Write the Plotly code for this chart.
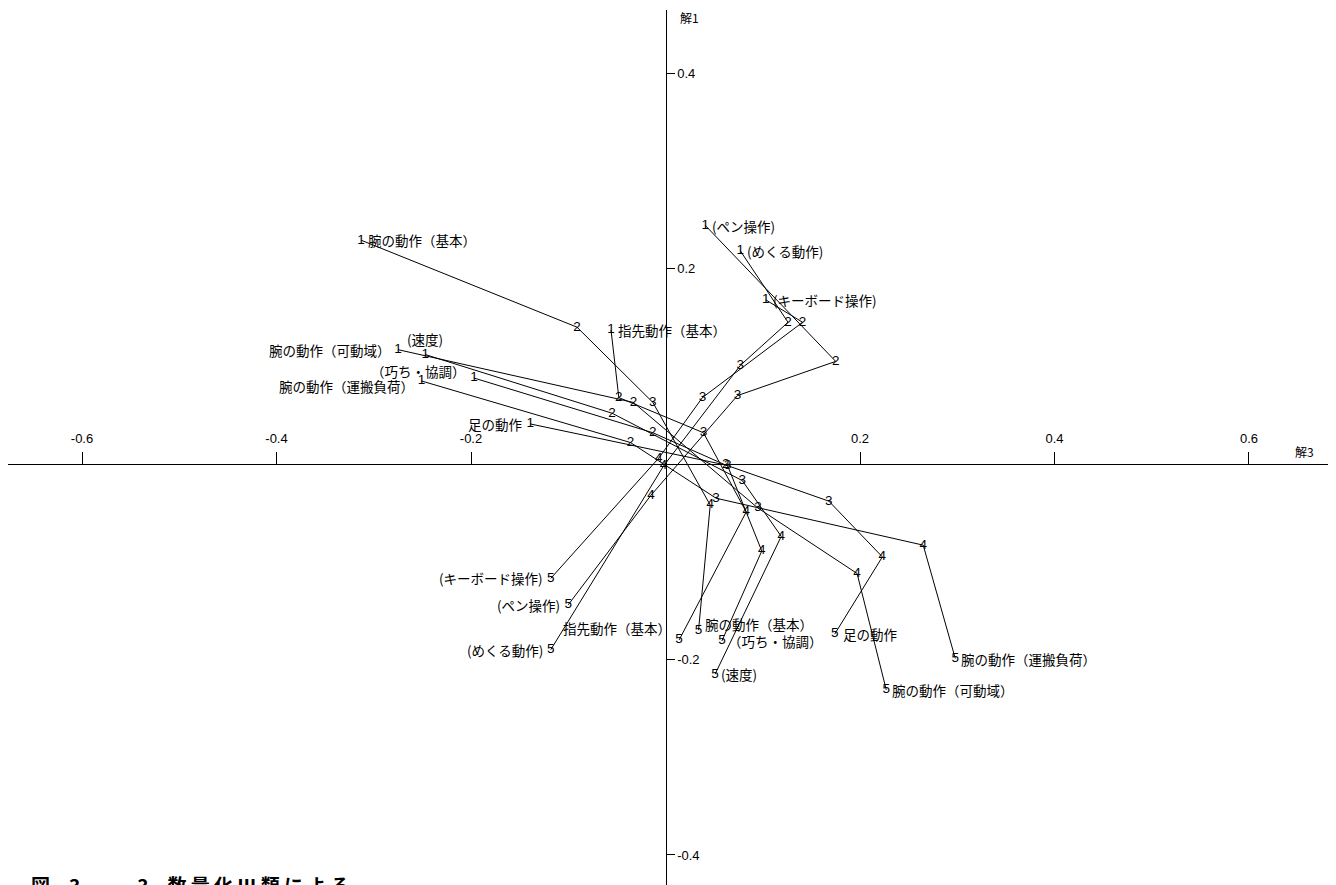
import plotly.graph_objects as go

# ---- data (category scores: x = 解3, y = 解1) ----
item_names = ["腕の動作（基本）", "指先動作（基本）", "腕の動作（可動域）", "(速度)", "（巧ち・協調）",
              "腕の動作（運搬負荷）", "足の動作", "(ペン操作)", "(めくる動作)", "(キーボード操作)"]
category_labels = ["1", "2", "3", "4", "5"]

x_cat1 = [-0.313, -0.056, -0.275, -0.247, -0.197, -0.251, -0.139, 0.041, 0.077, 0.103]
y_cat1 = [0.229, 0.137, 0.117, 0.112, 0.088, 0.085, 0.041, 0.244, 0.218, 0.168]
x_cat2 = [-0.091, -0.048, -0.033, -0.055, -0.013, -0.036, 0.062, 0.175, 0.126, 0.141]
y_cat2 = [0.140, 0.068, 0.063, 0.052, 0.032, 0.022, -0.001, 0.105, 0.145, 0.145]
x_cat3 = [-0.013, 0.039, 0.095, 0.079, 0.064, 0.052, 0.168, 0.074, 0.077, 0.038]
y_cat3 = [0.063, 0.032, -0.045, -0.017, -0.002, -0.035, -0.038, 0.070, 0.101, 0.068]
x_cat4 = [0.046, 0.083, 0.197, 0.119, 0.099, 0.265, 0.223, -0.015, -0.002, -0.007]
y_cat4 = [-0.042, -0.049, -0.112, -0.074, -0.089, -0.083, -0.095, -0.032, -0.002, 0.006]
x_cat5 = [0.034, 0.014, 0.227, 0.051, 0.058, 0.298, 0.174, -0.100, -0.118, -0.118]
y_cat5 = [-0.170, -0.180, -0.231, -0.215, -0.181, -0.199, -0.174, -0.144, -0.190, -0.117]

x_ticks = [-0.6, -0.4, -0.2, 0.2, 0.4, 0.6]
y_ticks = [-0.4, -0.2, 0.2, 0.4]

# ---- label placement (style): side of the point where the label sits, x/y shift in px ----
start_style = [("right", 5, 0), ("right", 5, 0), ("left", -5, 0), ("center", 0, 16), ("left", -6, 7),
               ("left", -5, -5), ("left", -6, 0), ("right", 5, 0), ("right", 5, 0), ("right", 5, 0)]
end_style = [("right", 4, 6), ("left", -6, 12), ("right", 4, 0), ("right", 4, 0), ("right", 4, 0),
             ("right", 4, 0), ("right", 6, 0), ("left", -6, 0), ("left", -6, 0), ("left", -6, 0)]
ANCHOR = {"right": "left", "left": "right", "center": "center"}

FONT = "Liberation Sans, Noto Sans CJK JP, sans-serif"
CJK = "Noto Sans CJK JP, sans-serif"

fig = go.Figure()
xs_all = [x_cat1, x_cat2, x_cat3, x_cat4, x_cat5]
ys_all = [y_cat1, y_cat2, y_cat3, y_cat4, y_cat5]
for i, name in enumerate(item_names):
    xs = [c[i] for c in xs_all]
    ys = [c[i] for c in ys_all]
    fig.add_trace(go.Scatter(
        x=xs, y=ys, mode="lines+text", text=category_labels,
        textposition="middle center",
        textfont=dict(family=FONT, size=13.5, color="black"),
        line=dict(color="black", width=1), name=name, showlegend=False,
        hoverinfo="skip"))

annotations = []
for i, name in enumerate(item_names):
    for (px, py, st) in ((x_cat1[i], y_cat1[i], start_style[i]), (x_cat5[i], y_cat5[i], end_style[i])):
        side, dx, dy = st
        annotations.append(dict(
            x=px, y=py, xref="x", yref="y", text=name, showarrow=False,
            xanchor=ANCHOR[side], yanchor="middle", xshift=dx, yshift=dy,
            font=dict(family=CJK, size=13.5, color="black")))

annotations.append(dict(x=0.645, y=0, xref="x", yref="y", text="解3", showarrow=False,
                        xanchor="left", yanchor="bottom", yshift=2,
                        font=dict(family=CJK, size=12, color="black")))
annotations.append(dict(x=0.0129, y=0.4573, xref="x", yref="y", text="解1", showarrow=False,
                        xanchor="left", yanchor="middle",
                        font=dict(family=CJK, size=12, color="black")))
annotations.append(dict(x=0.016, y=0.018, xref="paper", yref="paper",
                        text="<b>図　3　－　3　数 量 化 Ⅲ 類 に よ る</b>",
                        showarrow=False, xanchor="left", yanchor="top",
                        font=dict(family=CJK, size=19, color="black")))

# page body has an 8px margin: size the figure so the plot sits where the reference's does
fig.update_layout(
    width=1328, height=877,
    margin=dict(l=0, r=6, t=2, b=0),
    paper_bgcolor="white", plot_bgcolor="white",
    annotations=annotations,
    xaxis=dict(range=[-0.6761, 0.6833], anchor="free", position=0.4811, side="top",
               showline=True, linecolor="black", linewidth=1,
               ticks="outside", ticklen=12, tickcolor="black", tickwidth=1,
               ticklabelstandoff=4,
               tickvals=x_ticks, ticktext=[f"{v:.1f}" for v in x_ticks],
               tickfont=dict(family=FONT, size=13, color="black"),
               showgrid=False, zeroline=False),
    yaxis=dict(range=[-0.4307, 0.4645], anchor="free", position=0.4974, side="right",
               showline=True, linecolor="black", linewidth=1,
               ticks="outside", ticklen=8, tickcolor="black", tickwidth=1,
               tickvals=y_ticks, ticktext=[f"{v:.1f}" for v in y_ticks],
               tickfont=dict(family=FONT, size=13, color="black"),
               showgrid=False, zeroline=False),
)

fig.write_html("out.html")
